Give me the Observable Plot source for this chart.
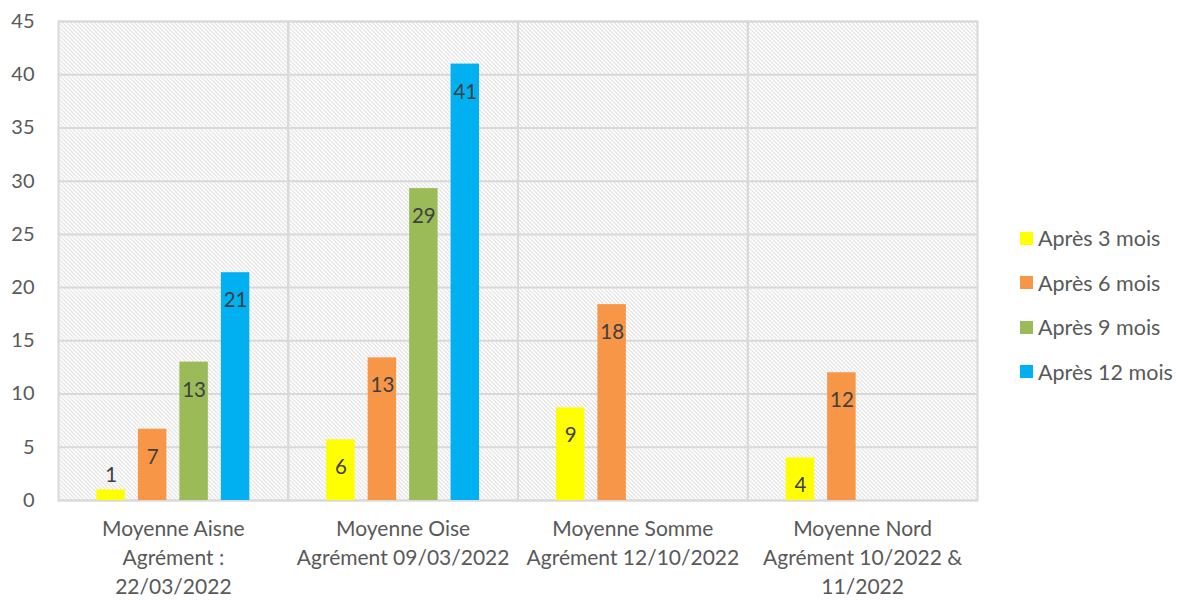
<!DOCTYPE html>
<html>
<head>
<meta charset="utf-8">
<script src="https://cdn.jsdelivr.net/npm/d3@7"></script>
<script src="https://cdn.jsdelivr.net/npm/@observablehq/plot@0.6"></script>
<style>
  html, body { margin: 0; padding: 0; background: white; }
  #wrap { position: relative; width: 1184px; height: 601px; }
  #legend { position: absolute; left: 1020px; top: 216px; font-family: Lato, sans-serif; font-size: 21.5px; color: #595959; }
  .row { height: 44.5px; display: flex; align-items: center; }
  .sw { width: 13px; height: 13px; margin-right: 5px; }
</style>
</head>
<body>
<div id="wrap"><div id="legend"></div></div>
<script>
const categories = [
  "Moyenne Aisne\nAgrément :\n22/03/2022",
  "Moyenne Oise\nAgrément 09/03/2022",
  "Moyenne Somme\nAgrément 12/10/2022",
  "Moyenne Nord\nAgrément 10/2022 &\n11/2022"
];
const series = ["Après 3 mois", "Après 6 mois", "Après 9 mois", "Après 12 mois"];
const colors = ["#FFFF00", "#F79646", "#9BBB59", "#00B0F0"];
const after3 = [1.0, 5.7, 8.7, 4.0];
const after6 = [6.7, 13.4, 18.4, 12.0];
const after9 = [13.0, 29.3, null, null];
const after12 = [21.4, 41.0, null, null];
const yTicks = [0, 5, 10, 15, 20, 25, 30, 35, 40, 45];

const values = [after3, after6, after9, after12];
const table = categories.flatMap((c, i) =>
  series.map((s, j) => ({cat: c, series: s, value: values[j][i]}))
).filter(d => d.value != null);

const chart = Plot.plot({
  width: 1184, height: 601,
  marginLeft: 58, marginRight: 207, marginTop: 21, marginBottom: 101,
  style: {fontFamily: "Lato, sans-serif", fontSize: "20px", color: "#595959", background: "white"},
  fx: {domain: categories, paddingInner: 0, paddingOuter: 0, round: false, label: null},
  x: {domain: series, paddingInner: 0.313, paddingOuter: 0.927, round: false, axis: null},
  y: {domain: [0, 45], label: null},
  color: {domain: series, range: colors},
  marks: [
    Plot.frame({fill: "url(#hatch)", stroke: null}),
    Plot.ruleY(yTicks, {stroke: "#d9d9d9", strokeWidth: 2}),
    Plot.frame({stroke: "#d9d9d9", strokeWidth: 2, fill: null}),
    Plot.barY(table, {fx: "cat", x: "series", y: "value", fill: "series"}),
    Plot.text(table.filter(d => d.value >= 3), {fx: "cat", x: "series", y: "value", text: d => String(Math.round(d.value)), dy: 28, fontSize: 20.5, fill: "#404040"}),
    Plot.text(table.filter(d => d.value < 3), {fx: "cat", x: "series", y: "value", text: d => String(Math.round(d.value)), dy: -14, fontSize: 20.5, fill: "#404040"}),
    Plot.axisY({ticks: yTicks, tickSize: 0, tickPadding: 24, fontSize: 20, label: null}),
    Plot.axisFx({anchor: "bottom", tickSize: 0, tickPadding: 15, fontSize: 21, lineHeight: 1.38, label: null})
  ]
});

const ns = "http://www.w3.org/2000/svg";
const defs = document.createElementNS(ns, "defs");
defs.innerHTML = '<pattern id="hatch" width="4" height="4" patternUnits="userSpaceOnUse">' +
  '<rect width="4" height="4" fill="white"/>' +
  '<path d="M-1,-1 L1,1 M0,0 L4,4 M3,3 L5,5" stroke="#cfcfcf" stroke-width="1"/></pattern>';
chart.insertBefore(defs, chart.firstChild);

const wrap = document.getElementById("wrap");
wrap.insertBefore(chart, wrap.firstChild);

const legend = document.getElementById("legend");
series.forEach((s, i) => {
  const row = document.createElement("div");
  row.className = "row";
  const sw = document.createElement("div");
  sw.className = "sw";
  sw.style.background = colors[i];
  const t = document.createElement("span");
  t.textContent = s;
  row.appendChild(sw); row.appendChild(t);
  legend.appendChild(row);
});
</script>
</body>
</html>
